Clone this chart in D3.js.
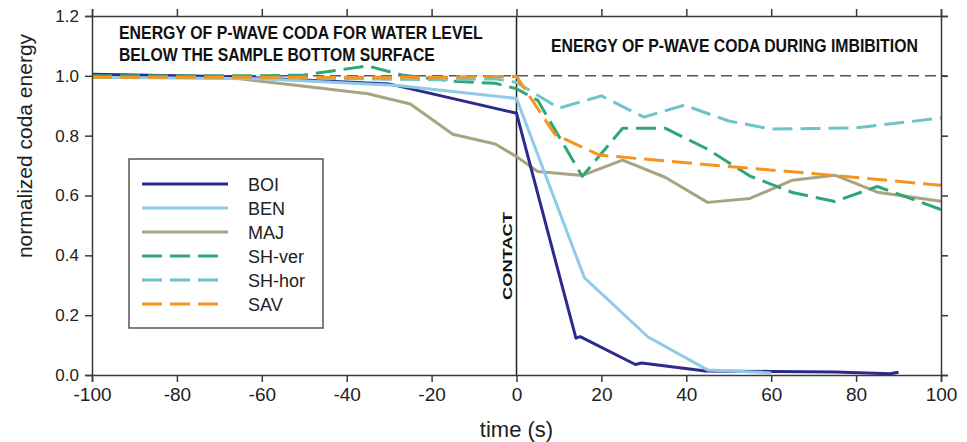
<!DOCTYPE html>
<html>
<head>
<meta charset="utf-8">
<script src="https://cdn.jsdelivr.net/npm/d3@7/dist/d3.min.js"></script>
<style>
  html, body { margin: 0; padding: 0; background: #fff; }
  svg { display: block; font-family: "Liberation Sans", Arial, sans-serif; }
</style>
</head>
<body>
<svg id="chart" width="967" height="442"></svg>
<script>
// ---- data ----
const seriesNames = ["BOI", "BEN", "MAJ", "SH-ver", "SH-hor", "SAV"];
const seriesColors = ["#2d2a8e", "#8ecbe8", "#a9a47f", "#2fa774", "#6fc4ca", "#f7941d"];
const seriesDashed = [false, false, false, true, true, true];

const boiT = [-100, -67, -30, 0, 14, 15, 28, 29.5, 44.5, 60, 75, 88, 90];
const boiV = [1.005, 0.997, 0.973, 0.875, 0.123, 0.128, 0.035, 0.04, 0.013, 0.012, 0.01, 0.004, 0.009];

const benT = [-100, -60, -28, 0, 16, 31, 45, 60];
const benV = [0.995, 0.99, 0.968, 0.924, 0.325, 0.127, 0.017, 0.007];

const majT = [-100, -68, -50, -35, -25, -15, -5, 0, 5, 15.5, 25, 35, 45, 55, 65, 75, 85, 100];
const majV = [1.0, 0.995, 0.965, 0.94, 0.906, 0.805, 0.772, 0.73, 0.68, 0.667, 0.718, 0.661, 0.577, 0.59, 0.651, 0.668, 0.611, 0.581];

const shVerT = [-100, -80, -60, -50, -35, -27, -15, -5, 0, 5, 15.5, 25, 35, 45, 55, 65, 75, 85, 100];
const shVerV = [1.0, 1.0, 1.0, 1.003, 1.033, 1.003, 0.982, 0.975, 0.957, 0.918, 0.664, 0.825, 0.825, 0.755, 0.665, 0.61, 0.58, 0.63, 0.553];

const shHorT = [-100, -50, -20, -5, 0, 10, 20, 30, 39.5, 50, 60, 70, 80, 100];
const shHorV = [0.995, 0.993, 0.987, 0.99, 0.978, 0.892, 0.933, 0.862, 0.902, 0.849, 0.822, 0.824, 0.826, 0.859];

const savT = [-100, -50, -20, 0, 9, 19.5, 45, 75, 100];
const savV = [0.995, 0.995, 0.995, 0.998, 0.805, 0.735, 0.703, 0.667, 0.634];

const xTicks = [-100, -80, -60, -40, -20, 0, 20, 40, 60, 80, 100];
const yTicks = [0.0, 0.2, 0.4, 0.6, 0.8, 1.0, 1.2];

const titleLeft = ["ENERGY OF P-WAVE CODA FOR WATER LEVEL", "BELOW THE SAMPLE BOTTOM SURFACE"];
const titleRight = "ENERGY OF P-WAVE CODA DURING IMBIBITION";
const contactLabel = "CONTACT";
const xLabel = "time (s)";
const yLabel = "normalized coda energy";

// ---- layout ----
const svg = d3.select("#chart");
const L = 92, R = 941, T = 16, B = 375;
const x = d3.scaleLinear().domain([-100, 100]).range([L, R]);
const y = d3.scaleLinear().domain([0, 1.2]).range([B, T]);
const axisColor = "#3a3a3a";

const allT = [boiT, benT, majT, shVerT, shHorT, savT];
const allV = [boiV, benV, majV, shVerV, shHorV, savV];
const series = seriesNames.map((n, i) => ({
  name: n, color: seriesColors[i], dashed: seriesDashed[i],
  pts: allT[i].map((t, j) => [t, allV[i][j]])
}));

// reference dashed line at 1.0
svg.append("line")
  .attr("x1", x(-100)).attr("x2", x(100) + 6)
  .attr("y1", y(1.0)).attr("y2", y(1.0))
  .attr("stroke", "#555").attr("stroke-width", 1.5)
  .attr("stroke-dasharray", "11,6");

// contact vertical line
svg.append("line")
  .attr("x1", x(0)).attr("x2", x(0))
  .attr("y1", T).attr("y2", B)
  .attr("stroke", "#222").attr("stroke-width", 1.5);

// series lines
const line = d3.line().x(d => x(d[0])).y(d => y(d[1]));
const drawOrder = [2, 0, 1, 3, 4, 5];
drawOrder.forEach(i => {
  const s = series[i];
  svg.append("path")
    .datum(s.pts)
    .attr("d", line)
    .attr("fill", "none")
    .attr("stroke", s.color)
    .attr("stroke-width", 3)
    .attr("stroke-linejoin", "round")
    .attr("stroke-dasharray", s.dashed ? "20,8" : null);
});

// axes (ticks outward on all four sides)
const fmt = d3.format(".1f");
const gx = svg.append("g").attr("transform", `translate(0,${B})`)
  .call(d3.axisBottom(x).tickValues(xTicks).tickSize(7).tickPadding(5).tickFormat(d => String(d)));
const gxTop = svg.append("g").attr("transform", `translate(0,${T})`)
  .call(d3.axisTop(x).tickValues(xTicks).tickSize(7).tickFormat(""));
const gy = svg.append("g").attr("transform", `translate(${L},0)`)
  .call(d3.axisLeft(y).tickValues(yTicks).tickSize(7).tickPadding(6).tickFormat(fmt));
const gyR = svg.append("g").attr("transform", `translate(${R},0)`)
  .call(d3.axisRight(y).tickValues(yTicks).tickSize(7).tickFormat(""));

[gx, gxTop, gy, gyR].forEach(g => {
  g.selectAll("path.domain").attr("stroke", axisColor).attr("stroke-width", 1.5);
  g.selectAll(".tick line").attr("stroke", axisColor).attr("stroke-width", 1.5);
  g.selectAll("text").attr("fill", "#222").style("font-family", '"Liberation Sans", Arial, sans-serif');
});
gx.selectAll("text").style("font-size", "19px").attr("dy", "0.75em");
gy.selectAll("text").style("font-size", "17px");

// axis titles
svg.append("text")
  .attr("x", (L + R) / 2).attr("y", 437)
  .attr("text-anchor", "middle")
  .style("font-size", "22px").attr("fill", "#222")
  .text(xLabel);

svg.append("text")
  .attr("transform", "translate(32,146) rotate(-90)")
  .attr("text-anchor", "middle")
  .style("font-size", "21px").attr("fill", "#222")
  .text(yLabel);

// helper: text horizontally scaled to a target width
function fittedText(str, tx, ty, target, size, rotate, anchorMiddle) {
  const g = svg.append("g");
  const t = g.append("text")
    .style("font-size", size + "px").style("font-weight", "bold").attr("fill", "#111")
    .attr("text-anchor", anchorMiddle ? "middle" : "start")
    .text(str);
  const w = t.node().getComputedTextLength();
  const s = target / w;
  g.attr("transform", `translate(${tx},${ty})` + (rotate ? ` rotate(${rotate})` : "") + ` scale(${s},1)`);
  return g;
}

// panel titles
const titleLens = [364, 316];
titleLeft.forEach((t, i) => fittedText(t, 119, 39 + i * 22, titleLens[i], 18, 0, false));
fittedText(titleRight, 551, 52, 367, 18, 0, false);

// CONTACT label
fittedText(contactLabel, 512, 256, 88, 13, -90, true);

// legend
const lg = svg.append("g");
lg.append("rect")
  .attr("x", 129).attr("y", 159).attr("width", 194).attr("height", 169)
  .attr("fill", "#fff").attr("stroke", "#555").attr("stroke-width", 1.5);
series.forEach((s, i) => {
  const yy = 184 + i * 24;
  lg.append("line")
    .attr("x1", 142).attr("x2", s.dashed ? 219 : 228)
    .attr("y1", yy).attr("y2", yy)
    .attr("stroke", s.color).attr("stroke-width", 3)
    .attr("stroke-dasharray", s.dashed ? "20,8" : null);
  lg.append("text")
    .attr("x", 248).attr("y", yy + 7)
    .style("font-size", "18px").attr("fill", "#222")
    .text(s.name);
});
</script>
</body>
</html>
